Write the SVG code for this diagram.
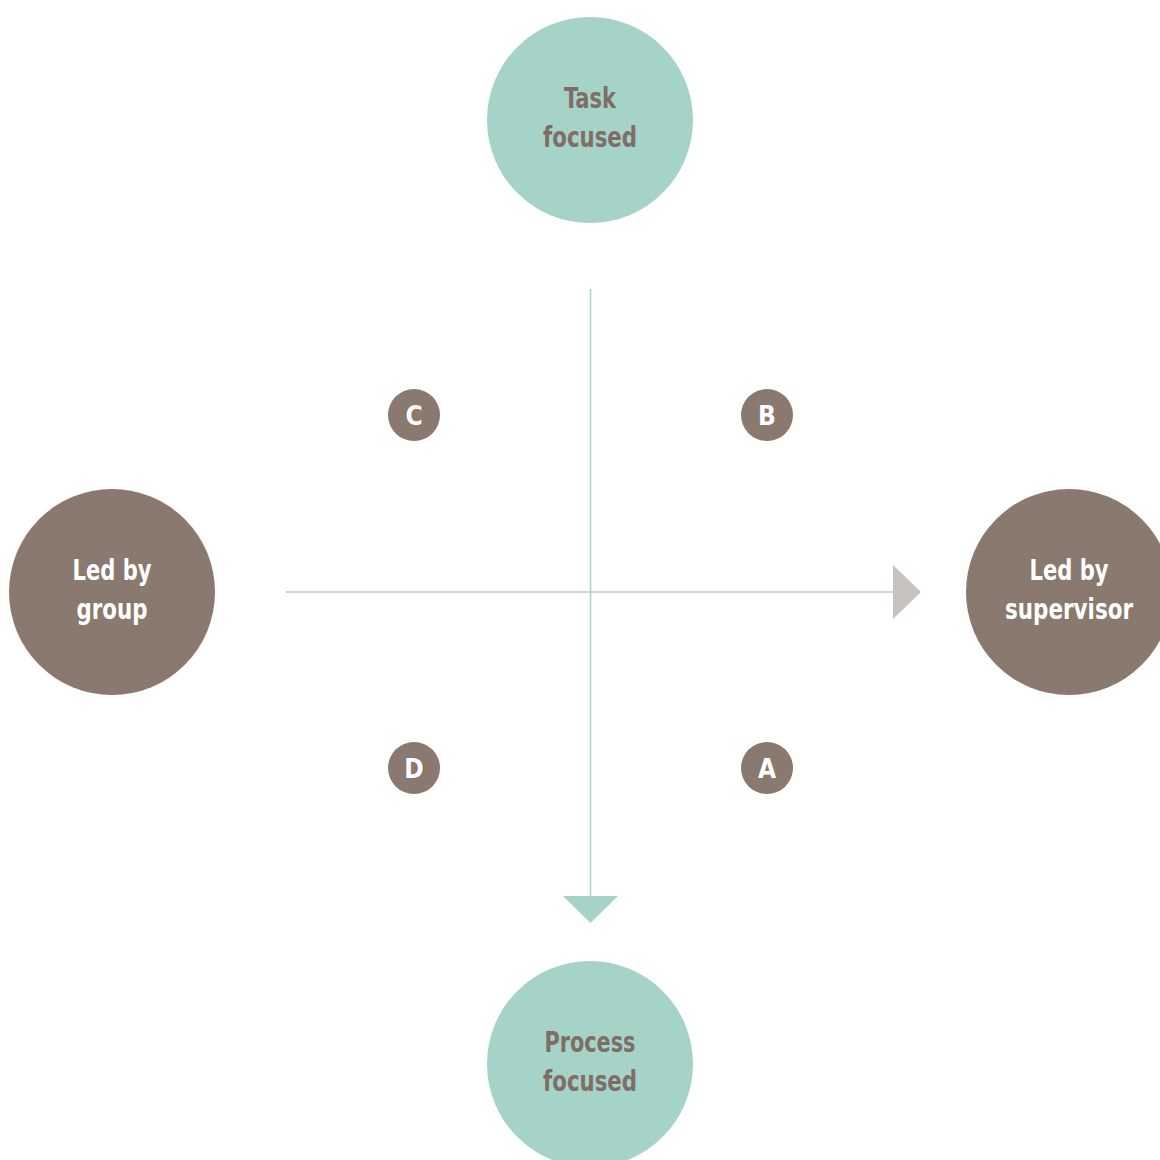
<svg xmlns="http://www.w3.org/2000/svg" width="1160" height="1160" viewBox="0 0 1160 1160">
<style>
.teal{fill:#a5d3c8}
.brown{fill:#89796f}
.lbl{font-family:"DejaVu Sans Condensed","Liberation Sans Narrow","DejaVu Sans",sans-serif;font-stretch:condensed;font-weight:bold;font-size:29px;text-anchor:middle}
.dark{fill:#7e6e67}
.white{fill:#ffffff}
.let{font-family:"DejaVu Sans Condensed","DejaVu Sans",sans-serif;font-stretch:condensed;font-weight:bold;font-size:26px;text-anchor:middle;fill:#ffffff}
</style>
<rect width="1160" height="1160" fill="#ffffff"/>
<g id="connectors">
<line x1="590.5" y1="289" x2="590.5" y2="897" stroke="#a5d3c8" stroke-width="1.5"/>
<polygon points="563,896 618,896 590.5,923" fill="#a5d3c8"/>
<line x1="286" y1="592" x2="894" y2="592" stroke="#c9c3bf" stroke-width="1.5"/>
<polygon points="893,565 893,619 921,592" fill="#c9c3bf"/>
</g>
<g id="task">
<circle class="teal" cx="590" cy="120" r="103"/>
<text class="lbl dark" x="590" y="108" textLength="52" lengthAdjust="spacingAndGlyphs">Task</text>
<text class="lbl dark" x="590" y="147" textLength="94" lengthAdjust="spacingAndGlyphs">focused</text>
</g>
<g id="process">
<circle class="teal" cx="590" cy="1064" r="103"/>
<text class="lbl dark" x="590" y="1052" textLength="91" lengthAdjust="spacingAndGlyphs">Process</text>
<text class="lbl dark" x="590" y="1091" textLength="94" lengthAdjust="spacingAndGlyphs">focused</text>
</g>
<g id="group">
<circle class="brown" cx="112" cy="592" r="103"/>
<text class="lbl white" x="112" y="580" textLength="79" lengthAdjust="spacingAndGlyphs">Led by</text>
<text class="lbl white" x="112" y="619" textLength="71" lengthAdjust="spacingAndGlyphs">group</text>
</g>
<g id="supervisor">
<circle class="brown" cx="1069" cy="592" r="103"/>
<text class="lbl white" x="1069" y="580" textLength="79" lengthAdjust="spacingAndGlyphs">Led by</text>
<text class="lbl white" x="1069" y="619" textLength="128" lengthAdjust="spacingAndGlyphs">supervisor</text>
</g>
<g id="C"><circle class="brown" cx="414" cy="415" r="26"/><text class="let" x="414" y="425">C</text></g>
<g id="B"><circle class="brown" cx="767" cy="415" r="26"/><text class="let" x="767" y="425">B</text></g>
<g id="D"><circle class="brown" cx="414" cy="768" r="26"/><text class="let" x="414" y="778">D</text></g>
<g id="A"><circle class="brown" cx="767" cy="768" r="26"/><text class="let" x="767" y="778">A</text></g>
</svg>
